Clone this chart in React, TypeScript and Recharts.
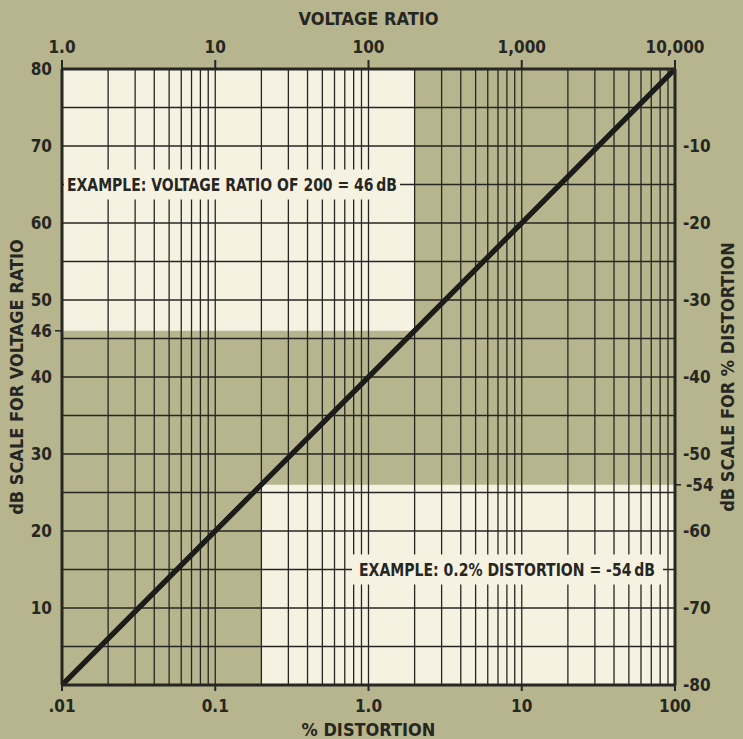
import React, { useLayoutEffect, useRef, useState } from "react";
import {
  ComposedChart,
  Line,
  XAxis,
  YAxis,
  ReferenceLine,
  ReferenceArea,
} from "recharts";

// top axis: voltage ratio, bottom axis: % distortion (same log scale, shifted)
const ratioTicks = [1, 10, 100, 1000, 10000];
const ratioTickLabels = ["1.0", "10", "100", "1,000", "10,000"];
const pctTicks = [0.01, 0.1, 1, 10, 100];
const pctTickLabels = [".01", "0.1", "1.0", "10", "100"];
const dbTicks = [10, 20, 30, 40, 46, 50, 60, 70, 80];
const distTicks = [-80, -70, -60, -54, -50, -40, -30, -20, -10];

// grid
const decades = [1, 10, 100, 1000];
const mantissas = [1, 2, 3, 4, 5, 6, 7, 8, 9];
const gridRatios = [...decades.flatMap((d) => mantissas.map((m) => m * d)), 10000];
const gridDb = [5, 10, 15, 20, 25, 30, 35, 40, 45, 50, 55, 60, 65, 70, 75];

// the dB line, in both unit systems
const lineRatio = [1, 10, 100, 1000, 10000];
const lineDb = [0, 20, 40, 60, 80];
const linePct = [0.01, 0.1, 1, 10, 100];
const lineDist = [-80, -60, -40, -20, 0];
const data = lineRatio.map((ratio, i) => ({
  ratio,
  db: lineDb[i],
  pct: linePct[i],
  dist: lineDist[i],
}));

const OLIVE = "#b6b58d";
const CREAM = "#f6f2e2";
const INK = "#262622";
const FONT = "'Liberation Sans Narrow', 'DejaVu Sans Condensed', 'Roboto', sans-serif";

const textStyle = {
  fontFamily: FONT,
  fontWeight: 700,
  fill: INK,
};

const BoxLabel = (props: any) => {
  const { viewBox, text, align, length } = props;
  const ref = useRef<SVGTextElement>(null);
  const [w, setW] = useState(length);
  useLayoutEffect(() => {
    if (ref.current) setW(ref.current.getComputedTextLength());
  }, [text]);
  if (!viewBox) return null;
  const y = viewBox.y;
  const tx = align === "start" ? viewBox.x + 5 : viewBox.x + viewBox.width - 20;
  const left = align === "start" ? viewBox.x + 2 : tx - w - 7;
  const right = align === "start" ? tx + w + 3 : tx + 8;
  return (
    <g>
      <rect x={left} y={y - 15} width={right - left} height={30} fill={CREAM} />
      <text
        ref={ref}
        x={tx}
        y={y + 6}
        textAnchor={align}
        fontSize={18}
        textLength={length}
        lengthAdjust="spacingAndGlyphs"
        style={textStyle}
      >
        {text}
      </text>
    </g>
  );
};

const TopTick = (p: any) => {
  const i = ratioTicks.indexOf(p.payload.value);
  return (
    <text x={p.x} y={p.y - 5} textAnchor="middle" fontSize={17} style={textStyle}>
      {ratioTickLabels[i]}
    </text>
  );
};

const BottomTick = (p: any) => {
  const i = pctTicks.indexOf(p.payload.value);
  return (
    <text x={p.x} y={p.y + 19} textAnchor="middle" fontSize={17} style={textStyle}>
      {pctTickLabels[i]}
    </text>
  );
};

const LeftTick = (p: any) => (
  <g>
    {p.payload.value === 46 && (
      <line x1={p.x + 3} x2={p.x + 10} y1={p.y} y2={p.y} stroke={INK} strokeWidth={1.5} />
    )}
    <text x={p.x} y={p.y + 6} textAnchor="end" fontSize={17} style={textStyle}>
      {p.payload.value}
    </text>
  </g>
);

const RightTick = (p: any) => (
  <g>
    {p.payload.value === -54 && (
      <line x1={p.x - 7} x2={p.x - 2} y1={p.y} y2={p.y} stroke={INK} strokeWidth={1.5} />
    )}
    <text x={p.x + (p.payload.value === -54 ? 3 : 0)} y={p.y + 6} textAnchor="start" fontSize={17} style={textStyle}>
      {String(p.payload.value)}
    </text>
  </g>
);

const titleStyle = {
  fontFamily: FONT,
  fontWeight: 700,
  fontSize: 18,
  fill: INK,
};

export default function App() {
  return (
    <div
      style={{
        position: "fixed",
        left: 0,
        top: 0,
        width: 743,
        height: 739,
        background: OLIVE,
      }}
    >
      <ComposedChart
        width={743}
        height={739}
        data={data}
        margin={{ top: 0, right: 0, bottom: 0, left: 0 }}
      >
        <XAxis
          xAxisId="ratio"
          orientation="top"
          type="number"
          scale="log"
          dataKey="ratio"
          domain={[1, 10000]}
          ticks={ratioTicks}
          height={69}
          tickSize={9}
          tickMargin={2}
          axisLine={{ stroke: INK, strokeWidth: 3 }}
          tickLine={{ stroke: INK, strokeWidth: 2 }}
          tick={<TopTick />}
          allowDataOverflow
          label={{ value: "VOLTAGE RATIO", position: "insideTop", offset: 12, style: titleStyle }}
        />
        <XAxis
          xAxisId="pct"
          orientation="bottom"
          type="number"
          scale="log"
          dataKey="pct"
          domain={[0.01, 100]}
          ticks={pctTicks}
          height={54}
          tickSize={6}
          tickMargin={2}
          axisLine={{ stroke: INK, strokeWidth: 3 }}
          tickLine={{ stroke: INK, strokeWidth: 2 }}
          tick={<BottomTick />}
          allowDataOverflow
          label={{ value: "% DISTORTION", position: "insideBottom", offset: 3, style: titleStyle }}
        />
        <YAxis
          yAxisId="db"
          orientation="left"
          type="number"
          domain={[0, 80]}
          ticks={dbTicks}
          width={62}
          tickSize={0}
          tickMargin={10}
          axisLine={{ stroke: INK, strokeWidth: 3 }}
          tickLine={false}
          tick={<LeftTick />}
          allowDataOverflow
          label={{
            value: "dB SCALE FOR VOLTAGE RATIO",
            angle: -90,
            position: "insideLeft",
            offset: 17,
            style: { ...titleStyle, textAnchor: "middle" },
          }}
        />
        <YAxis
          yAxisId="dist"
          orientation="right"
          type="number"
          domain={[-80, 0]}
          ticks={distTicks}
          width={68}
          tickSize={0}
          tickMargin={8}
          axisLine={{ stroke: INK, strokeWidth: 3 }}
          tickLine={false}
          tick={<RightTick />}
          allowDataOverflow
          label={{
            value: "dB SCALE FOR % DISTORTION",
            angle: -90,
            position: "insideRight",
            offset: 15,
            style: { ...titleStyle, textAnchor: "middle" },
          }}
        />

        <ReferenceArea
          xAxisId="ratio"
          yAxisId="db"
          x1={1}
          x2={200}
          y1={46}
          y2={80}
          fill={CREAM}
          fillOpacity={1}
          stroke="none"
        />
        <ReferenceArea
          xAxisId="pct"
          yAxisId="dist"
          x1={0.2}
          x2={100}
          y1={-80}
          y2={-54}
          fill={CREAM}
          fillOpacity={1}
          stroke="none"
        />

        {gridRatios.map((r) => (
          <ReferenceLine
            key={`v${r}`}
            xAxisId="ratio"
            yAxisId="db"
            x={r}
            stroke={INK}
            strokeWidth={1.3}
          />
        ))}
        {gridDb.map((d) => (
          <ReferenceLine
            key={`h${d}`}
            xAxisId="ratio"
            yAxisId="db"
            y={d}
            stroke={INK}
            strokeWidth={1.3}
          />
        ))}

        <Line
          xAxisId="ratio"
          yAxisId="db"
          dataKey="db"
          type="linear"
          stroke="#1c1c1a"
          strokeWidth={5}
          dot={false}
          activeDot={false}
          isAnimationActive={false}
        />
        {/* same line in distortion units, keeps the bottom/right axes bound */}
        <Line
          xAxisId="pct"
          yAxisId="dist"
          dataKey="dist"
          type="linear"
          stroke="#1c1c1a"
          strokeWidth={5}
          dot={false}
          activeDot={false}
          isAnimationActive={false}
        />

        <ReferenceLine
          xAxisId="ratio"
          yAxisId="db"
          y={65}
          stroke="none"
          label={<BoxLabel text={"EXAMPLE: VOLTAGE RATIO OF 200 = 46\u2009dB"} align="start" length={330} />}
        />
        <ReferenceLine
          xAxisId="ratio"
          yAxisId="db"
          y={15}
          stroke="none"
          label={<BoxLabel text={"EXAMPLE: 0.2% DISTORTION = -54\u2009dB"} align="end" length={296} />}
        />
      </ComposedChart>
    </div>
  );
}
